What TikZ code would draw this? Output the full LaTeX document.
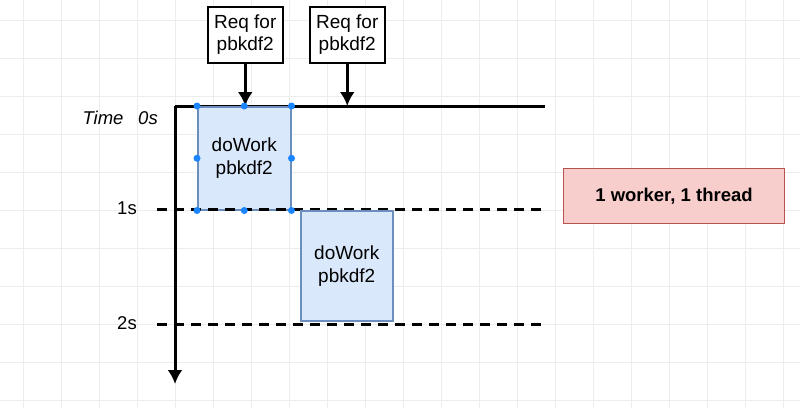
\documentclass[tikz,border=0pt]{standalone}
\usepackage{fontspec}
\setmainfont{Liberation Sans}
\usetikzlibrary{arrows.meta}
\definecolor{workfill}{HTML}{DAE8FC}
\definecolor{workline}{HTML}{6C8EBF}
\definecolor{notefill}{HTML}{F8CECC}
\definecolor{noteline}{HTML}{B85450}
\definecolor{gridgray}{HTML}{EDEDED}
\definecolor{handle}{HTML}{1A85FF}

\begin{document}
\begin{tikzpicture}[x=1pt,y=-1pt,
  work/.style={draw=workline,fill=workfill,line width=1.5pt,anchor=north west,
    minimum width=93pt,minimum height=103pt,align=center,inner sep=0pt,
    font=\fontsize{19}{23}\selectfont},
  req/.style={draw,fill=white,line width=1.5pt,anchor=north west,
    minimum width=75pt,minimum height=56pt,align=center,inner sep=0pt,
    font=\fontsize{19}{22}\selectfont},
  tick/.style={font=\fontsize{18.5}{20}\selectfont,inner sep=0pt},
  timeline/.style={line width=3pt,dash pattern=on 10pt off 7pt},
  tip/.style={-{Latex[length=14pt,width=15pt]},line width=3pt}]
  \useasboundingbox (0,0) rectangle (800,408);
  \fill[white] (0,0) rectangle (800,408);
  \foreach \x in {23,61,...,800}
     \draw[gridgray] (\x,0) -- (\x,408);
  \foreach \y in {20,58,...,408}
     \draw[gridgray] (0,\y) -- (800,\y);

  \coordinate (origin) at (175,106);
  \coordinate (xend) at (545,106);
  \coordinate (yend) at (175,384);
  \draw[line width=3pt] (origin) -- (xend);
  \draw[tip] (origin) -- (yend);

  \node[tick] (time) at (103,118) {\itshape Time};
  \node[tick] (zero) at (148,118) {\itshape 0s};
  \node[tick] (one) at (127,208) {1s};
  \node[tick] (two) at (127,323) {2s};

  \node[req] (reqa) at (207,6) {Req for\\pbkdf2};
  \node[req] (reqb) at (309,6) {Req for\\pbkdf2};

  \node[work] (worka) at (197,106) {doWork\\pbkdf2};

  \coordinate (onestart) at (157,209);
  \coordinate (oneend) at (548,209);
  \coordinate (twostart) at (157,324);
  \coordinate (twoend) at (548,324);
  \draw[timeline] (onestart) -- (oneend);
  \draw[timeline] (twostart) -- (twoend);

  \node[work,minimum height=110pt,minimum width=92pt] (workb) at (300,210) {doWork\\pbkdf2};

  \draw[tip] (reqa.south) -- (reqa.south |- worka.north);
  \draw[tip] (reqb.south) -- (reqb.south |- origin);

  \foreach \a in {north west,north,north east,east,south east,south,south west,west}
     \fill[handle] (worka.\a) circle (3.5);

  \node[draw=noteline,fill=notefill,line width=1pt,anchor=north west,
    minimum width=221pt,minimum height=55pt,inner sep=0pt,
    font=\fontsize{18.5}{20}\selectfont\bfseries] (note) at (563,168) {1 worker, 1 thread};
\end{tikzpicture}
\end{document}
